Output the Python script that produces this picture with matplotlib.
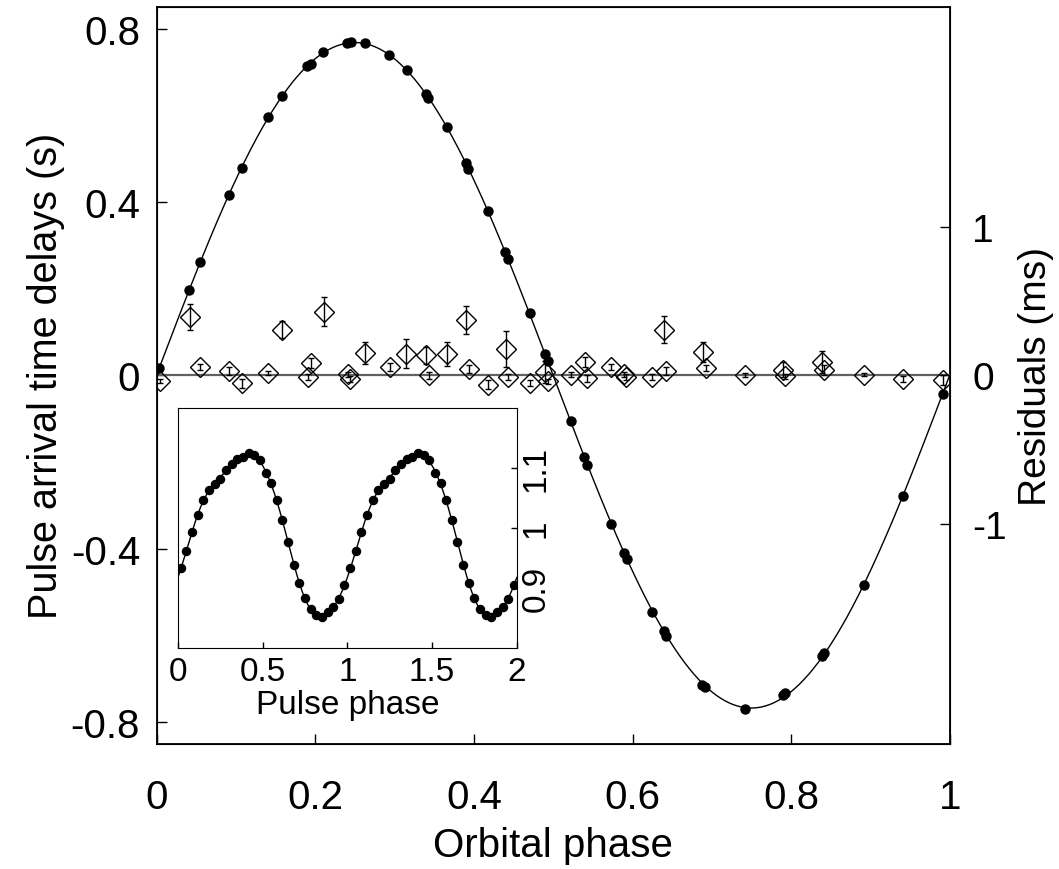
import numpy as np
import matplotlib
matplotlib.use("Agg")
import matplotlib.pyplot as plt
from matplotlib.ticker import FuncFormatter

plt.rcParams['font.family'] = ['Liberation Sans', 'DejaVu Sans']
plt.rcParams['axes.unicode_minus'] = False

# orbital phase of each measurement, delays (s) and timing residuals (ms)
orb_phase = [0.003, 0.041, 0.055, 0.091, 0.107, 0.140, 0.158, 0.190, 0.194, 0.210,
             0.240, 0.245, 0.262, 0.293, 0.315, 0.340, 0.342, 0.366, 0.390, 0.393,
             0.418, 0.439, 0.443, 0.470, 0.489, 0.493, 0.522, 0.539, 0.543, 0.573,
             0.589, 0.593, 0.625, 0.639, 0.642, 0.688, 0.691, 0.742, 0.789, 0.792,
             0.839, 0.841, 0.892, 0.941, 0.991]
delays = [0.016, 0.196, 0.261, 0.415, 0.478, 0.595, 0.645, 0.714, 0.719, 0.745,
          0.766, 0.768, 0.766, 0.740, 0.705, 0.649, 0.639, 0.572, 0.490, 0.477,
          0.378, 0.284, 0.268, 0.144, 0.050, 0.034, -0.105, -0.189, -0.206, -0.343,
          -0.410, -0.424, -0.545, -0.591, -0.601, -0.714, -0.718, -0.769, -0.738, -0.733,
          -0.648, -0.641, -0.484, -0.279, -0.043]

res_phase = [0.004, 0.042, 0.055, 0.091, 0.107, 0.140, 0.158, 0.191, 0.194, 0.211,
             0.241, 0.244, 0.262, 0.294, 0.314, 0.340, 0.343, 0.366, 0.390, 0.394,
             0.418, 0.440, 0.443, 0.470, 0.489, 0.493, 0.522, 0.540, 0.543, 0.573,
             0.589, 0.592, 0.625, 0.639, 0.642, 0.689, 0.692, 0.742, 0.789, 0.792,
             0.839, 0.841, 0.892, 0.941, 0.991]
residuals = [-0.038, 0.393, 0.056, 0.029, -0.054, 0.016, 0.308, -0.011, 0.083, 0.427,
             0.007, -0.025, 0.150, 0.056, 0.146, 0.135, 0.000, 0.146, 0.371, 0.045,
             -0.063, 0.175, -0.011, -0.052, 0.022, -0.040, 0.005, 0.090, -0.021, 0.056,
             0.007, -0.011, -0.011, 0.308, 0.029, 0.157, 0.049, 0.004, 0.038, -0.007,
             0.090, 0.038, 0.004, -0.025, -0.034]
res_err = [0.011, 0.088, 0.018, 0.029, 0.029, 0.016, 0.056, 0.018, 0.034, 0.097,
           0.018, 0.022, 0.076, 0.027, 0.097, 0.058, 0.022, 0.081, 0.094, 0.027,
           0.029, 0.121, 0.018, 0.018, 0.074, 0.018, 0.016, 0.031, 0.022, 0.022,
           0.018, 0.018, 0.018, 0.090, 0.027, 0.065, 0.022, 0.013, 0.049, 0.018,
           0.074, 0.034, 0.011, 0.018, 0.034]

# pulse profile (one cycle, 30 bins), shown twice in the inset
pulse_phase = [0.017, 0.050, 0.083, 0.117, 0.150, 0.183, 0.217, 0.250, 0.283, 0.317,
               0.350, 0.383, 0.417, 0.450, 0.483, 0.517, 0.550, 0.583, 0.617, 0.650,
               0.683, 0.717, 0.750, 0.783, 0.817, 0.850, 0.883, 0.917, 0.950, 0.983]
pulse_flux = [0.933, 0.961, 0.993, 1.021, 1.047, 1.063, 1.074, 1.082, 1.096, 1.106,
              1.115, 1.119, 1.125, 1.121, 1.113, 1.091, 1.075, 1.046, 1.013, 0.977,
              0.938, 0.909, 0.884, 0.865, 0.855, 0.852, 0.860, 0.869, 0.882, 0.905]


def sine_fit(x, y, xs):
    # circular orbit: delay = a sin + b cos
    x = np.asarray(x)
    A = np.column_stack([np.sin(2 * np.pi * x), np.cos(2 * np.pi * x)])
    c = np.linalg.lstsq(A, np.asarray(y), rcond=None)[0]
    return c[0] * np.sin(2 * np.pi * xs) + c[1] * np.cos(2 * np.pi * xs)


def fourier_fit(x, y, xs, nharm=4):
    x = np.asarray(x)
    cols = [np.ones_like(x)]
    cols_s = [np.ones_like(xs)]
    for k in range(1, nharm + 1):
        cols += [np.cos(2 * np.pi * k * x), np.sin(2 * np.pi * k * x)]
        cols_s += [np.cos(2 * np.pi * k * xs), np.sin(2 * np.pi * k * xs)]
    c = np.linalg.lstsq(np.column_stack(cols), np.asarray(y), rcond=None)[0]
    return np.column_stack(cols_s) @ c


fmt = FuncFormatter(lambda v, _: '%g' % v)

fig = plt.figure(figsize=(10.59, 8.7), dpi=100)
ax = fig.add_axes([0.148, 0.144, 0.749, 0.847])

xs = np.linspace(0, 1, 500)
ax.plot(xs, sine_fit(orb_phase, delays, xs), color='black', lw=1)
ax.plot(orb_phase, delays, 'o', color='black', ms=6.5, zorder=3)
ax.set_xlim(0, 1)
ax.set_ylim(-0.85, 0.85)
ax.set_xticks([0, 0.2, 0.4, 0.6, 0.8, 1])
ax.set_yticks([-0.8, -0.4, 0, 0.4, 0.8])
ax.xaxis.set_major_formatter(fmt)
ax.yaxis.set_major_formatter(fmt)
ax.tick_params(axis='both', direction='in', length=7, width=1, labelsize=29)
ax.tick_params(axis='x', pad=25)
ax.tick_params(axis='y', pad=12)
ax.tick_params(top=False, right=False)
ax.set_xlabel('Orbital phase', fontsize=29, labelpad=7)
ax.set_ylabel('Pulse arrival time delays (s)', fontsize=28.5, labelpad=4)
for s in ax.spines.values():
    s.set_linewidth(1.3)

# residuals on the right axis
ax2 = ax.twinx()
ax2.set_ylim(-2.48, 2.48)
ax2.axhline(0, color='0.38', lw=1.6, zorder=1)
ax2.errorbar(res_phase, residuals, yerr=res_err, fmt='D', ms=10, mfc='none',
             mec='black', mew=1, ecolor='black', elinewidth=1, capsize=2.5,
             capthick=1, zorder=2)
ax2.set_yticks([-1, 0, 1])
ax2.yaxis.set_major_formatter(fmt)
ax2.tick_params(axis='y', direction='in', length=7, width=1, labelsize=28, pad=16)
ax2.set_ylabel('Residuals (ms)', fontsize=28, labelpad=8)

# inset: pulse profile
axi = fig.add_axes([0.168, 0.254, 0.320, 0.276])
ph2 = np.concatenate([pulse_phase, np.array(pulse_phase) + 1])
fl2 = np.concatenate([pulse_flux, pulse_flux])
xs2 = np.linspace(0, 2, 600)
axi.plot(xs2, fourier_fit(pulse_phase, pulse_flux, xs2), color='black', lw=1)
axi.plot(ph2, fl2, 'o', color='black', ms=5.8, zorder=3)
axi.set_xlim(0, 2)
axi.set_ylim(0.8, 1.2)
axi.yaxis.tick_right()
axi.set_xticks([0, 0.5, 1, 1.5, 2])
axi.set_yticks([0.9, 1, 1.1])
axi.xaxis.set_major_formatter(fmt)
axi.yaxis.set_major_formatter(fmt)
axi.tick_params(axis='both', direction='in', length=4, width=1, labelsize=24)
axi.tick_params(axis='x', pad=6)
axi.tick_params(axis='y', pad=3)
for lab in axi.get_yticklabels():
    lab.set_rotation(90)
    lab.set_va('center')
axi.set_xlabel('Pulse phase', fontsize=24, labelpad=1)

fig.savefig('out.png', dpi=100)
